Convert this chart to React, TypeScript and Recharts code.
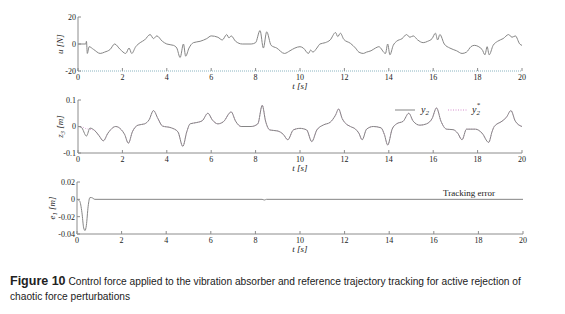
import { LineChart, Line, XAxis, YAxis, Legend } from 'recharts';

const serif = '"Liberation Serif", "Times New Roman", serif';
const sans = '"Liberation Sans", Arial, sans-serif';
const axisGray = '#8c8c8c';
const curveGray = '#858585';
const refPink = '#dba6d4';

// time axis (seconds)
const timeTicks = [0, 2, 4, 6, 8, 10, 12, 14, 16, 18, 20];

// control force u [N]
const uTime = [
  0, 0.35, 0.38, 0.42, 0.5, 0.7, 1.0, 1.2, 1.45, 1.65, 1.9, 2.15, 2.3, 2.42, 2.6, 2.8, 3.0, 3.25, 3.4,
  3.55, 3.8, 4.0, 4.3, 4.45, 4.6, 4.75, 4.85, 5.0, 5.2, 5.5, 5.8, 6.0, 6.3, 6.5, 6.7, 6.8, 6.9, 7.1,
  7.4, 7.8, 8.0, 8.2, 8.35, 8.5, 8.7, 8.95, 9.3, 9.55, 9.77, 10.0, 10.15, 10.38, 10.48, 10.58, 10.76,
  10.9, 11.14, 11.36, 11.6, 11.7, 11.82, 11.97, 12.27, 12.5, 12.65, 12.85, 13.0, 13.2, 13.4, 13.55,
  13.85, 13.95, 14.05, 14.2, 14.35, 14.6, 14.8, 14.95, 15.1, 15.3, 15.55, 15.75, 15.95, 16.1, 16.2,
  16.3, 16.5, 16.75, 17.05, 17.3, 17.5, 17.7, 17.85, 18.2, 18.33, 18.43, 18.52, 18.7, 18.9, 19.15,
  19.4, 19.55, 19.7, 19.9, 20,
];
const uForce = [
  0, 0, 2, -7, -2, -4, -7, -6, -4, 0, -4, -7, -3, -7, -2, 1, 3, 7, 4, 6, 2, 0, -1, -3, -10, 0, -9, -3,
  1, 2, 4, 6, 5, 3, 7, 4.5, 6, 2, 0, 0, 1, 10, -3, 9, -1, -3, -7, -5, -3, -2, -3, -7, -4.5, -6, -3, 0,
  1, 3, 8.5, 5.5, 8, 3.5, 0.5, -3, -6, -7, -6, -5, -3, -2, -7, 0, -8, -1, 2, 4, 7, 5, 6, 3, 1, 2, 4, 8,
  3, 7, 0, -3, -5, -7, -6, -2, -1, -4, -8, -2, -8, -1, 2, 4, 7, 5, 6, 0, -1,
];

// absorber position y2 = z3 [m]
const zTime = [
  0, 0.15, 0.38, 0.54, 0.75, 0.95, 1.14, 1.35, 1.7, 1.95, 2.1, 2.27, 2.45, 2.7, 3.0, 3.2, 3.4, 3.6,
  3.8, 4.2, 4.5, 4.72, 4.9, 5.05, 5.35, 5.6, 5.85, 6.05, 6.3, 6.55, 6.9, 7.1, 7.35, 7.8, 8.1, 8.3,
  8.45, 8.64, 9.0, 9.25, 9.45, 9.7, 10.0, 10.3, 10.53, 10.76, 11.06, 11.36, 11.6, 11.74, 11.9, 12.05,
  12.27, 12.5, 12.65, 12.8, 13.0, 13.3, 13.65, 13.8, 13.95, 14.15, 14.35, 14.65, 14.9, 15.1, 15.4,
  15.7, 15.95, 16.15, 16.35, 16.6, 16.9, 17.1, 17.3, 17.5, 17.9, 18.2, 18.5, 18.65, 18.75, 19.1, 19.3,
  19.5, 19.7, 20,
];
const zTrack = [
  0, -0.003, -0.036, -0.006, -0.015, -0.035, -0.054, -0.025, 0, -0.012, -0.03, -0.063, -0.02, 0.005,
  0.01, 0.025, 0.06, 0.03, 0.002, -0.005, -0.02, -0.075, -0.02, 0.01, 0.015, 0.022, 0.05, 0.025, 0.01,
  0.018, 0.055, 0.02, 0, 0, 0.01, 0.08, 0.02, -0.013, -0.017, -0.03, -0.05, -0.013, -0.007, -0.013,
  -0.057, -0.013, 0.006, 0.016, 0.043, 0.066, 0.03, 0.012, 0, -0.01, -0.025, -0.05, -0.01, 0, -0.005,
  -0.03, -0.07, -0.01, 0.01, 0.02, 0.05, 0.02, 0.005, 0.01, 0.03, 0.07, 0.02, -0.01, -0.012, -0.025,
  -0.05, -0.01, -0.01, -0.025, -0.06, -0.02, 0, 0.02, 0.035, 0.06, 0.02, 0,
];

// reference y2* during the start-up, afterwards it sits on y2
const refTime = [0, 0.2, 0.35, 0.5];
const refStart = [0, -0.002, -0.008, -0.01];

// tracking error e1 [m]
const eTime = [0, 0.12, 0.22, 0.3, 0.36, 0.42, 0.5, 0.58, 0.65, 0.8, 8.3, 8.4, 8.5, 20];
const eError = [0, -0.002, -0.015, -0.033, -0.036, -0.03, -0.008, 0.002, 0.002, 0, 0, -0.0008, 0, 0];

const uTicks = [-20, 0, 20];
const zTicks = [-0.1, 0, 0.1];
const eTicks = [-0.04, -0.02, 0, 0.02];

const toPoints = (ts: number[], vs: number[]) => ts.map((t, i) => ({ t, v: vs[i] }));

const uData = toPoints(uTime, uForce);
const zData = toPoints(zTime, zTrack);
const refData = [...toPoints(refTime, refStart), ...zData.filter((p) => p.t >= 0.75)];
const eData = toPoints(eTime, eError);

const tickStyle = { fontSize: 8, fontFamily: serif, fill: '#222' };

const timeLabel = (props: any) => {
  const vb = props.viewBox;
  return (
    <text x={300} y={vb.y + 18} textAnchor='middle' fontFamily={serif} fontStyle='italic' fontSize={9} fill='#222'>
      t [s]
    </text>
  );
};

const yTitle = (x: number, main: string, sub: string, unit: string) => (props: any) => {
  const vb = props.viewBox;
  const cy = vb.y + vb.height / 2;
  return (
    <text
      transform={`rotate(-90 ${x} ${cy})`}
      x={x}
      y={cy}
      textAnchor='middle'
      dominantBaseline='central'
      fontFamily={serif}
      fontStyle='italic'
      fontSize={9}
      fill='#222'
    >
      {main}
      {sub ? <tspan dy={2} fontSize={6.5}>{sub}</tspan> : null}
      <tspan dy={sub ? -2 : 0}>{' ' + unit}</tspan>
    </text>
  );
};

type PanelProps = {
  top: number;
  height: number;
  marginTop: number;
  plotLeft: number;
  plotRight: number;
  domain: [number, number];
  yTicks: number[];
  title: (props: any) => any;
  topLine?: any;
  bottomLine?: any;
  children?: any;
};

const Panel = ({ top, height, marginTop, plotLeft, plotRight, domain, yTicks, title, topLine, bottomLine, children }: PanelProps) => (
  <div style={{ position: 'absolute', left: 0, top }}>
    <LineChart width={565} height={height} margin={{ top: marginTop, right: 565 - plotRight, bottom: 0, left: 0 }}>
      <XAxis
        xAxisId='b'
        dataKey='t'
        type='number'
        domain={[0, 20]}
        ticks={timeTicks}
        allowDataOverflow
        height={20}
        tickSize={-3}
        tickMargin={6}
        stroke={axisGray}
        tick={tickStyle}
        axisLine={bottomLine ?? { stroke: axisGray }}
        label={timeLabel}
      />
      <XAxis
        xAxisId='t'
        orientation='top'
        dataKey='t'
        type='number'
        domain={[0, 20]}
        ticks={timeTicks}
        allowDataOverflow
        height={0}
        tickSize={-3}
        tick={false}
        stroke={axisGray}
        axisLine={topLine ?? { stroke: axisGray }}
      />
      <YAxis
        yAxisId='l'
        type='number'
        domain={domain}
        ticks={yTicks}
        allowDataOverflow
        width={plotLeft}
        tickSize={-3}
        tickMargin={5}
        stroke={axisGray}
        tick={tickStyle}
        label={title}
      />
      <YAxis
        yAxisId='r'
        orientation='right'
        type='number'
        domain={domain}
        ticks={yTicks}
        allowDataOverflow
        width={0}
        tickSize={-3}
        tick={false}
        stroke={axisGray}
      />
      {children}
    </LineChart>
  </div>
);

const TrackLegend = () => (
  <svg width={100} height={22}>
    <line x1={0} x2={20} y1={12} y2={12} stroke={curveGray} strokeWidth={1} />
    <text x={26} y={15} fontFamily={serif} fontStyle='italic' fontSize={10} fill='#222'>
      y<tspan dy={2} fontSize={7}>2</tspan>
    </text>
    <line x1={53} x2={72} y1={12} y2={12} stroke='#d48ccc' strokeWidth={1} strokeDasharray='1 1.5' />
    <text x={77} y={15} fontFamily={serif} fontStyle='italic' fontSize={10} fill='#222'>
      y<tspan dy={2} fontSize={7}>2</tspan>
      <tspan dx={-3.5} dy={-8} fontSize={7}>*</tspan>
    </text>
  </svg>
);

const ErrorLegend = () => (
  <div style={{ fontFamily: serif, fontSize: 9, lineHeight: '12px', color: '#222', whiteSpace: 'nowrap' }}>Tracking error</div>
);

export default function App() {
  return (
    <div style={{ position: 'absolute', left: 0, top: 0, width: 565, height: 314, background: '#fff', overflow: 'hidden' }}>
      <Panel
        top={0}
        height={91}
        marginTop={17}
        plotLeft={78}
        plotRight={522}
        domain={[-20, 20]}
        yTicks={uTicks}
        title={yTitle(60, 'u', '', '[N]')}
        bottomLine={{ stroke: '#8ab4c0', strokeDasharray: '1 1' }}
      >
        <Line
          xAxisId='b'
          yAxisId='l'
          data={uData}
          dataKey='v'
          type='monotone'
          stroke={curveGray}
          strokeWidth={1}
          dot={false}
          isAnimationActive={false}
        />
      </Panel>

      <Panel
        top={92}
        height={81}
        marginTop={8}
        plotLeft={78}
        plotRight={522}
        domain={[-0.1, 0.1]}
        yTicks={zTicks}
        title={yTitle(60, 'z', '3', '[m]')}
        topLine={{ stroke: '#d48ccc', strokeDasharray: '1 1' }}
      >
        <Line
          xAxisId='b'
          yAxisId='l'
          data={refData}
          dataKey='v'
          name='y2*'
          type='monotone'
          stroke={refPink}
          strokeWidth={1}
          strokeDasharray='1 1.5'
          dot={false}
          isAnimationActive={false}
        />
        <Line
          xAxisId='b'
          yAxisId='l'
          data={zData}
          dataKey='v'
          name='y2'
          type='monotone'
          stroke={curveGray}
          strokeWidth={1}
          dot={false}
          isAnimationActive={false}
        />
        <Legend
          layout='horizontal'
          verticalAlign='middle'
          align='center'
          content={() => <TrackLegend />}
          wrapperStyle={{ left: 395, top: 6, width: 100, height: 22 }}
        />
      </Panel>

      <Panel
        top={174}
        height={80}
        marginTop={8}
        plotLeft={77}
        plotRight={523}
        domain={[-0.04, 0.02]}
        yTicks={eTicks}
        title={yTitle(52, 'e', '1', '[m]')}
      >
        <Line
          xAxisId='b'
          yAxisId='l'
          data={eData}
          dataKey='v'
          name='Tracking error'
          type='monotone'
          stroke={curveGray}
          strokeWidth={1}
          dot={false}
          isAnimationActive={false}
        />
        <Legend
          layout='horizontal'
          verticalAlign='middle'
          align='center'
          content={() => <ErrorLegend />}
          wrapperStyle={{ left: 443, top: 13, width: 70, height: 12 }}
        />
      </Panel>

      <div style={{ position: 'absolute', left: 10, top: 276, fontFamily: sans, fontSize: 10.2, lineHeight: '10px', color: '#222', whiteSpace: 'nowrap' }}>
        <b style={{ fontSize: 12.5 }}>Figure 10</b> Control force applied to the vibration absorber and reference trajectory tracking for active rejection of
      </div>
      <div style={{ position: 'absolute', left: 10, top: 292, fontFamily: sans, fontSize: 10.2, lineHeight: '10px', color: '#222', whiteSpace: 'nowrap' }}>
        chaotic force perturbations
      </div>
    </div>
  );
}
